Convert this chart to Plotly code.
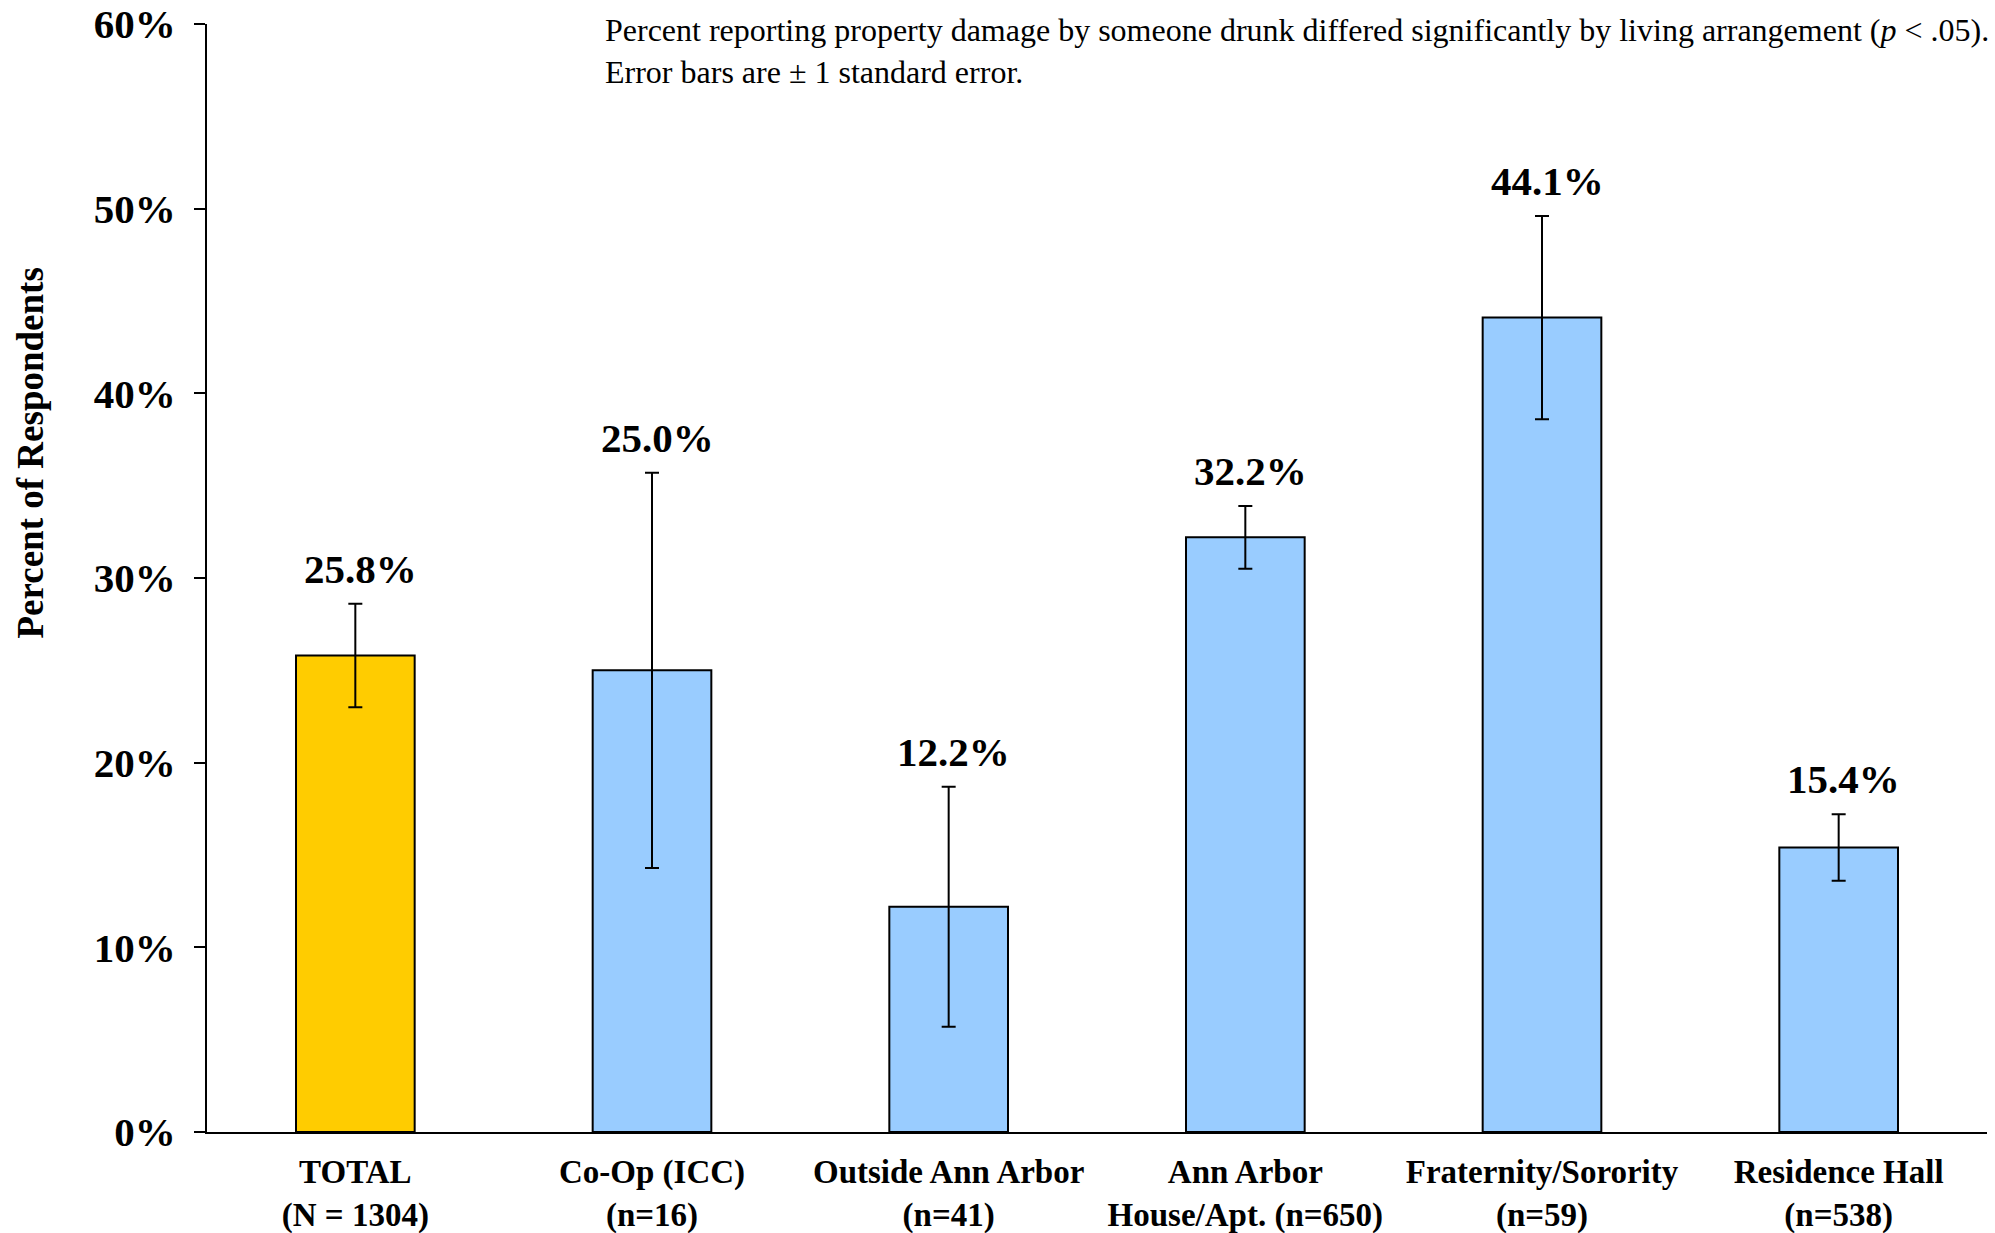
import plotly.graph_objects as go

# Living arrangement groups and their sample sizes
categories = ["TOTAL", "Co-Op (ICC)", "Outside Ann Arbor", "Ann Arbor", "Fraternity/Sorority", "Residence Hall"]
tick_labels = [
    "TOTAL<br>(N = 1304)",
    "Co-Op (ICC)<br>(n=16)",
    "Outside Ann Arbor<br>(n=41)",
    "Ann Arbor<br>House/Apt. (n=650)",
    "Fraternity/Sorority<br>(n=59)",
    "Residence Hall<br>(n=538)",
]
# Percent reporting property damage by someone drunk
percent = [25.8, 25.0, 12.2, 32.2, 44.1, 15.4]
# One standard error for each group
std_err = [2.8, 10.7, 6.5, 1.7, 5.5, 1.8]
bar_colors = ["#FFCC00", "#99CCFF", "#99CCFF", "#99CCFF", "#99CCFF", "#99CCFF"]
y_ticks = [0, 10, 20, 30, 40, 50, 60]

SERIF = "Liberation Serif, Times New Roman, serif"

W, H = 1995, 1233
M_L, M_R, M_T, M_B = 207, 8, 24, 101
plot_w = W - M_L - M_R
plot_h = H - M_T - M_B

x_pos = list(range(len(categories)))

fig = go.Figure()
fig.add_trace(go.Bar(
    x=x_pos,
    y=percent,
    width=0.4,
    marker=dict(color=bar_colors, line=dict(color="#000000", width=2)),
    error_y=dict(type="data", array=std_err, visible=True,
                 color="#000000", thickness=2, width=7),
    hoverinfo="skip",
    showlegend=False,
))

# Value labels sit just above the upper error bar
for xi, v, e in zip(x_pos, percent, std_err):
    fig.add_annotation(
        x=xi, y=v + e, xref="x", yref="y",
        text=f"{v:.1f}%", showarrow=False,
        yanchor="bottom", yshift=10, xshift=5,
        font=dict(family=SERIF, size=41, color="#000000", weight="bold"),
    )

fig.add_annotation(
    x=0.2225, y=1.0, xref="paper", yref="paper",
    xanchor="left", yanchor="top", align="left", showarrow=False,
    yshift=14,
    text="Percent reporting property damage by someone drunk differed significantly by living arrangement (<i>p</i> < .05).<br>Error bars are ± 1 standard error.",
    font=dict(family=SERIF, size=32, color="#000000"),
)

# Rotated axis title, positioned in pixels and converted to paper coords
fig.add_annotation(
    x=(8 - M_L) / plot_w, y=(H - M_B - 453) / plot_h,
    xref="paper", yref="paper",
    text="Percent of Respondents", textangle=-90, showarrow=False,
    font=dict(family=SERIF, size=37, color="#000000", weight="bold"),
)

fig.update_layout(
    width=W, height=H,
    margin=dict(l=M_L, r=M_R, t=M_T, b=M_B),
    paper_bgcolor="#FFFFFF", plot_bgcolor="#FFFFFF",
    bargap=0.6,
)

fig.update_xaxes(
    range=[-0.5, 5.5],
    tickvals=x_pos, ticktext=tick_labels,
    showline=True, linecolor="#000000", linewidth=2,
    ticks="", showgrid=False, zeroline=False,
    automargin=False,
    ticklabelstandoff=9,
    tickfont=dict(family=SERIF, size=33, color="#000000", weight="bold"),
)
fig.update_yaxes(
    range=[0, 60],
    tickvals=y_ticks, ticktext=[f"{t}%" for t in y_ticks],
    showline=True, linecolor="#000000", linewidth=2,
    ticks="outside", ticklen=11, tickwidth=2, tickcolor="#000000",
    showgrid=False, zeroline=False,
    automargin=False,
    ticklabelstandoff=10,
    tickfont=dict(family=SERIF, size=41, color="#000000", weight="bold"),
)

fig.write_html("out.html")
